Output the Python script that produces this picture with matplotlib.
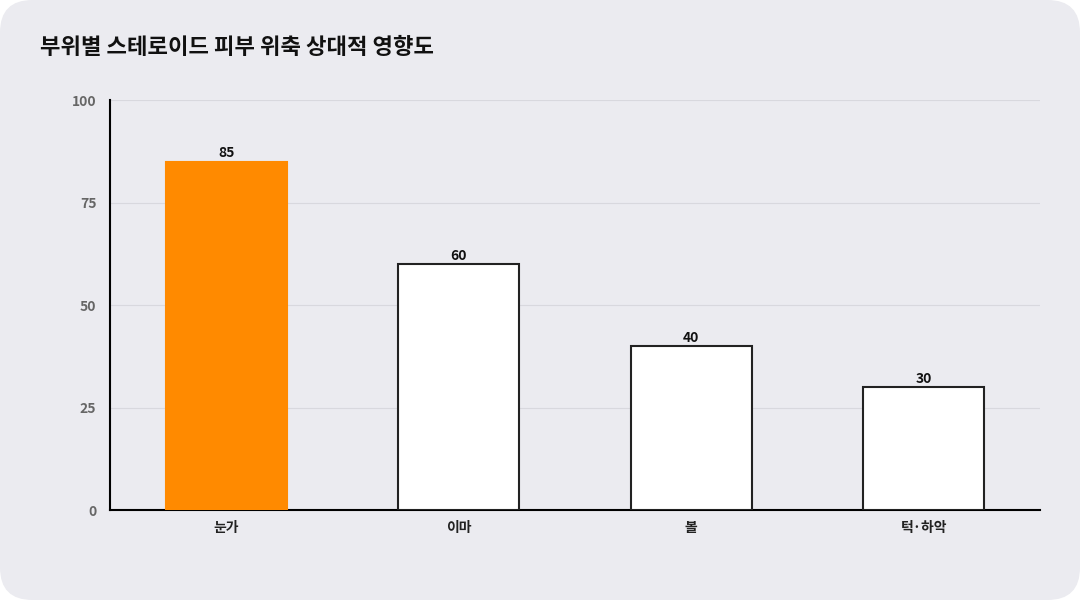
import matplotlib
matplotlib.use("Agg")
import matplotlib.pyplot as plt
from matplotlib.patches import FancyBboxPatch

plt.rcParams['font.family'] = ['Noto Sans CJK KR', 'DejaVu Sans']

categories = ["눈가", "이마", "볼", "턱·하악"]
values = [85, 60, 40, 30]
colors = ["#ff8a00", "#ffffff", "#ffffff", "#ffffff"]
edges = ["#ff8a00", "#222222", "#222222", "#222222"]
yticks = [0, 25, 50, 75, 100]

fig = plt.figure(figsize=(10.8, 6), dpi=100)
fig.patch.set_facecolor("white")
bg = FancyBboxPatch((0, 0), 1, 1, boxstyle="round,pad=0,rounding_size=0.03",
                    transform=fig.transFigure, facecolor="#ebebf0",
                    edgecolor="none", mutation_aspect=1.8, zorder=-10)
fig.patches.append(bg)

ax = fig.add_axes([0.102, 0.15, 0.861, 0.683])
ax.set_facecolor("none")
ax.bar(range(len(values)), values, width=0.52, color=colors,
       edgecolor=edges, linewidth=1.5, zorder=3)
for i, v in enumerate(values):
    ax.text(i, v + 0.3, str(v), ha="center", va="bottom", fontsize=10,
            fontweight="bold", color="#111111", zorder=4)

ax.set_xlim(-0.5, 3.5)
ax.set_ylim(0, 100)
ax.set_yticks(yticks)
ax.set_xticks(range(len(categories)))
ax.set_xticklabels(categories, fontsize=10, fontweight="bold", color="#222222")
ax.tick_params(axis="y", labelsize=10, colors="#666666", length=0, pad=10)
ax.tick_params(axis="x", length=0, pad=8)
for lbl in ax.get_yticklabels():
    lbl.set_fontweight("bold")
ax.grid(axis="y", color="#d8d8de", linewidth=0.8, zorder=0)
for s in ["top", "right"]:
    ax.spines[s].set_visible(False)
ax.spines["left"].set_linewidth(1.5)
ax.spines["bottom"].set_linewidth(1.5)

fig.text(0.037, 0.921, "부위별 스테로이드 피부 위축 상대적 영향도", fontsize=16,
         fontweight="bold", color="#111111", va="center")

fig.savefig("out.png", dpi=100)
